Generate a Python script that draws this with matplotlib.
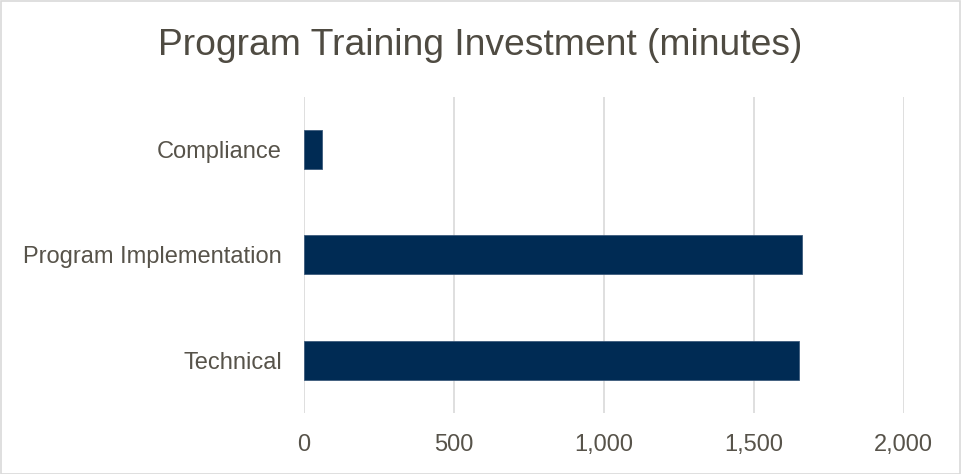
import matplotlib.pyplot as plt
from matplotlib.patches import Rectangle
from matplotlib.ticker import FuncFormatter

categories = ["Technical", "Program Implementation", "Compliance"]
minutes = [1650, 1660, 60]
x_ticks = [0, 500, 1000, 1500, 2000]

bar_color = "#002b54"
text_color = "#57534a"
grid_color = "#d9d9d9"

plt.rcParams['font.family'] = ['Liberation Sans', 'DejaVu Sans']

fig = plt.figure(figsize=(9.61, 4.74), dpi=100)
ax = fig.add_axes([303.7/961, 1-412.7/474, (903.5-303.7)/961, (412.7-96.7)/474])

ax.barh(range(len(categories)), minutes, height=0.37, color=bar_color,
        edgecolor="#3d5b7c", linewidth=0.6, zorder=3)

ax.set_xlim(0, 2000)
ax.set_ylim(-0.5, len(categories) - 0.5)
ax.set_xticks(x_ticks)
ax.xaxis.set_major_formatter(FuncFormatter(lambda v, p: f"{int(v):,}"))
ax.set_yticks(range(len(categories)))
ax.set_yticklabels(categories)

ax.tick_params(axis='x', length=0, pad=15.5, labelsize=17, labelcolor=text_color)
ax.tick_params(axis='y', length=0, pad=15.8, labelsize=17, labelcolor=text_color)
ax.grid(axis='x', color=grid_color, linewidth=1.2, zorder=0)
for s in ax.spines.values():
    s.set_visible(False)

fig.text(0.5, 1-55/474, "Program Training Investment (minutes)", ha='center', va='baseline',
         fontsize=26.8, color="#4f4b42")

# light border round the chart
fig.patches.append(Rectangle((0.5/961, 0.5/474), 1-1.5/961, 1-1.5/474, transform=fig.transFigure,
                             fill=False, edgecolor=grid_color, linewidth=1.2))

fig.savefig("out.png", dpi=100)
